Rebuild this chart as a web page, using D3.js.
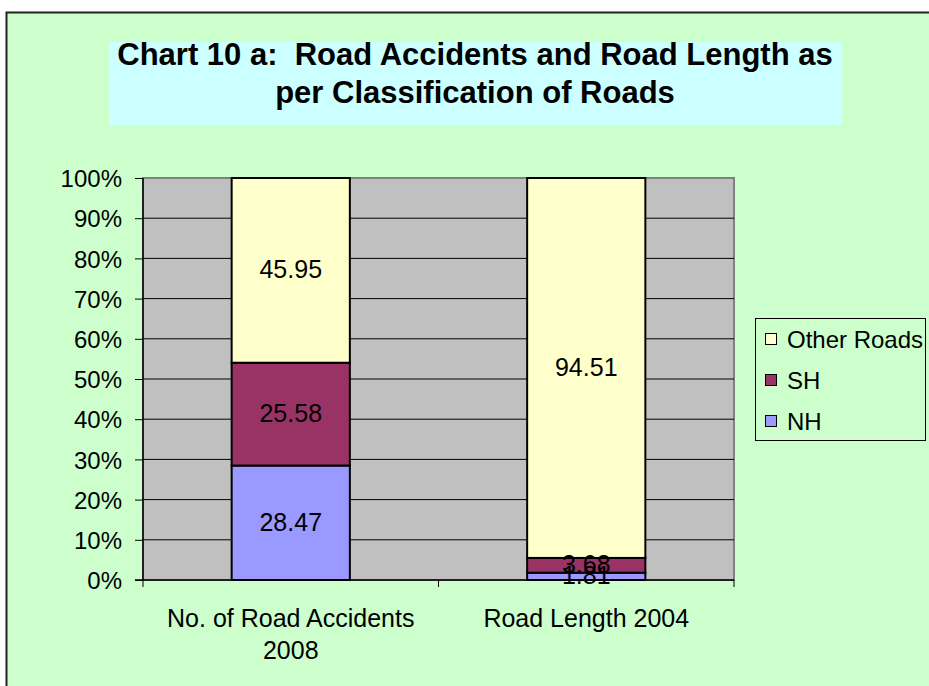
<!DOCTYPE html>
<html>
<head>
<meta charset="utf-8">
<script src="https://cdn.jsdelivr.net/npm/d3@7"></script>
<style>
  body { margin: 0; background: #fff; }
  text { font-family: "Liberation Sans", Arial, sans-serif; fill: #000; white-space: pre; }
</style>
</head>
<body>
<svg id="chart" width="929" height="686"></svg>
<script>
// chart data
let categories = ["No. of Road Accidents 2008", "Road Length 2004"];
let seriesNames = ["NH", "SH", "Other Roads"];
let nhValues = [28.47, 1.81];
let shValues = [25.58, 3.68];
let otherValues = [45.95, 94.51];
let yTicks = [0, 10, 20, 30, 40, 50, 60, 70, 80, 90, 100];
let colors = ["#9999ff", "#993366", "#ffffcc"];

let svg = d3.select("#chart");

// outer chart area
svg.append("rect")
  .attr("x", 6.5).attr("y", 12.5)
  .attr("width", 940).attr("height", 700)
  .attr("fill", "#ccffcc")
  .attr("stroke", "#222").attr("stroke-width", 2);

// title
svg.append("rect")
  .attr("x", 109).attr("y", 42)
  .attr("width", 733).attr("height", 83)
  .attr("fill", "#ccffff");
let title = svg.append("text")
  .attr("text-anchor", "middle")
  .attr("font-size", 31).attr("font-weight", "bold");
title.append("tspan").attr("x", 475).attr("y", 65).text("Chart 10 a:  Road Accidents and Road Length as");
title.append("tspan").attr("x", 475).attr("y", 103).text("per Classification of Roads");

let plotLeft = 143, plotRight = 734, plotTop = 178, plotBottom = 580;

let x = d3.scaleBand().domain(categories).range([plotLeft, plotRight]).paddingInner(0.6).paddingOuter(0.3);
let y = d3.scaleLinear().domain([0, 100]).range([plotBottom, plotTop]);

// plot area
svg.append("rect")
  .attr("x", plotLeft).attr("y", plotTop)
  .attr("width", plotRight - plotLeft).attr("height", plotBottom - plotTop)
  .attr("fill", "#c0c0c0")
  .attr("stroke", "#808080").attr("stroke-width", 2);

// grid lines
svg.append("g")
  .selectAll("line")
  .data(yTicks.slice(1, -1))
  .join("line")
  .attr("x1", plotLeft).attr("x2", plotRight)
  .attr("y1", (d) => y(d)).attr("y2", (d) => y(d))
  .attr("stroke", "#000").attr("stroke-width", 1);

// stacked data
let rows = categories.map((c, i) => ({ cat: c, NH: nhValues[i], SH: shValues[i], "Other Roads": otherValues[i] }));
let stack = d3.stack().keys(seriesNames)(rows);

let groups = svg.append("g")
  .selectAll("g")
  .data(stack)
  .join("g")
  .attr("fill", (d, i) => colors[i]);

groups.selectAll("rect")
  .data((d) => d)
  .join("rect")
  .attr("x", (d) => x(d.data.cat))
  .attr("width", x.bandwidth())
  .attr("y", (d) => y(d[1]))
  .attr("height", (d) => y(d[0]) - y(d[1]))
  .attr("stroke", "#000").attr("stroke-width", 2);

// value labels
stack.forEach((s) => {
  svg.append("g")
    .selectAll("text")
    .data(s)
    .join("text")
    .attr("x", (d) => x(d.data.cat) + x.bandwidth() / 2)
    .attr("y", (d) => (y(d[0]) + y(d[1])) / 2 + 8)
    .attr("text-anchor", "middle")
    .attr("font-size", 25)
    .text((d) => d.data[s.key].toFixed(2));
});

// y axis
let yAxis = svg.append("g")
  .attr("transform", `translate(${plotLeft},0)`)
  .call(d3.axisLeft(y).tickValues(yTicks).tickFormat((d) => d + "%").tickSize(8).tickPadding(13));
yAxis.select(".domain").attr("stroke", "#000").attr("stroke-width", 1.5).attr("d", `M0,${plotTop}V${plotBottom}`);
yAxis.selectAll(".tick line").attr("stroke", "#000");
yAxis.selectAll("text").attr("font-size", 24).attr("font-family", "Liberation Sans, Arial, sans-serif").attr("dy", "0.36em");

// x axis
let xAxisG = svg.append("g");
xAxisG.append("line")
  .attr("x1", plotLeft - 8).attr("x2", plotRight)
  .attr("y1", plotBottom).attr("y2", plotBottom)
  .attr("stroke", "#000").attr("stroke-width", 1.5);
xAxisG.selectAll("line.tick")
  .data([plotLeft, (plotLeft + plotRight) / 2, plotRight])
  .join("line")
  .attr("class", "tick")
  .attr("x1", (d) => d).attr("x2", (d) => d)
  .attr("y1", plotBottom).attr("y2", plotBottom + 7)
  .attr("stroke", "#000");

let xLabels = [["No. of Road Accidents", "2008"], ["Road Length 2004"]];
xLabels.forEach((lines, i) => {
  let t = svg.append("text")
    .attr("text-anchor", "middle")
    .attr("font-size", 25);
  lines.forEach((ln, j) => {
    t.append("tspan")
      .attr("x", x(categories[i]) + x.bandwidth() / 2)
      .attr("y", 627 + j * 32)
      .text(ln);
  });
});

// legend
let legend = svg.append("g");
legend.append("rect")
  .attr("x", 755.5).attr("y", 318.5)
  .attr("width", 170).attr("height", 122)
  .attr("fill", "none").attr("stroke", "#000");
let legendItems = seriesNames.slice().reverse();
legend.selectAll("g")
  .data(legendItems)
  .join("g")
  .attr("transform", (d, i) => `translate(765,${339 + i * 41})`)
  .each(function (d) {
    let g = d3.select(this);
    g.append("rect")
      .attr("x", 0.5).attr("y", -5.5)
      .attr("width", 11).attr("height", 11)
      .attr("fill", colors[seriesNames.indexOf(d)])
      .attr("stroke", "#000");
    g.append("text")
      .attr("x", 22).attr("y", 9)
      .attr("font-size", 24)
      .text(d);
  });
</script>
</body>
</html>
